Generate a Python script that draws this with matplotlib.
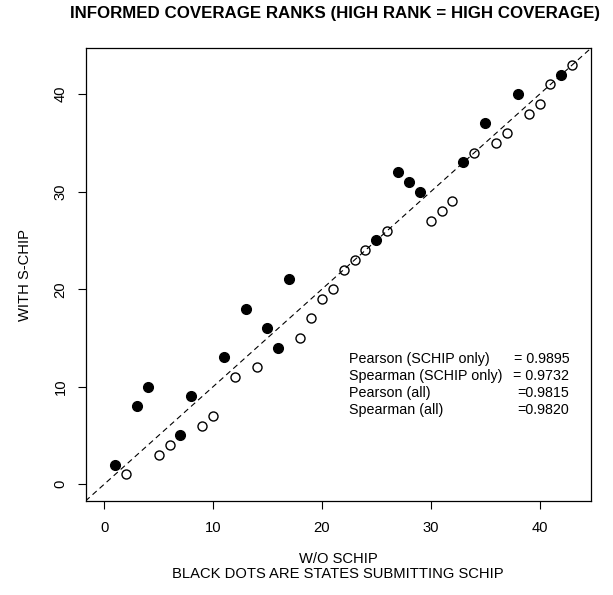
import matplotlib
matplotlib.use("Agg")
import matplotlib.pyplot as plt

# ranks without / with S-CHIP
schip_x = [1, 3, 4, 7, 8, 11, 13, 15, 16, 17, 25, 27, 28, 29, 33, 35, 38, 42]
schip_y = [2, 8, 10, 5, 9, 13, 18, 16, 14, 21, 25, 32, 31, 30, 33, 37, 40, 42]
other_x = [2, 5, 6, 9, 10, 12, 14, 18, 19, 20, 21, 22, 23, 24, 26, 30, 31, 32,
           34, 36, 37, 39, 40, 41, 43]
other_y = [1, 3, 4, 6, 7, 11, 12, 15, 17, 19, 20, 22, 23, 24, 26, 27, 28, 29,
           34, 35, 36, 38, 39, 41, 43]

stat_labels = ["Pearson (SCHIP only)", "Spearman (SCHIP only)",
               "Pearson (all)", "Spearman (all)"]
stat_values = ["= 0.9895", "= 0.9732", "=0.9815", "=0.9820"]

ticks = [0, 10, 20, 30, 40]

plt.rcParams['font.family'] = ['Liberation Sans', 'DejaVu Sans']
fs = 10.6

fig = plt.figure(figsize=(6.13, 5.95), dpi=100)
ax = fig.add_axes([0.1395, 0.158, 0.8245, 0.761])

ax.plot(other_x, other_y, 'o', markersize=6.5, markerfacecolor='white',
        markeredgecolor='black', markeredgewidth=1.0, linestyle='none')
ax.plot(schip_x, schip_y, 'o', markersize=7, color='black', linestyle='none')
ax.axline((0, 0), slope=1, color='black', linestyle=(0, (5, 3.5)), linewidth=0.8)

pad = 43 * 0.04
ax.set_xlim(-pad, 43 + pad)
ax.set_ylim(-pad, 43 + pad)
ax.set_xticks(ticks)
ax.set_yticks(ticks)
ax.tick_params(axis='both', direction='out', length=6, width=0.8, labelsize=fs)
ax.tick_params(axis='x', pad=8.7)
ax.tick_params(axis='y', labelrotation=90, pad=6.8)
for lab in ax.get_yticklabels():
    lab.set_va('center')

for sp in ax.spines.values():
    sp.set_linewidth(0.9)

ys = [12.85, 11.1, 9.35, 7.6]
for lab, val, y in zip(stat_labels, stat_values, ys):
    ax.text(22.5, y, lab, fontsize=10.3, va='center', ha='left')
    ax.text(42.75, y, val, fontsize=10.3, va='center', ha='right')

ax.set_xlabel("W/O SCHIP\nBLACK DOTS ARE STATES SUBMITTING SCHIP",
              fontsize=fs, labelpad=12, linespacing=1.05)
ax.set_ylabel("WITH S-CHIP", fontsize=fs, labelpad=16)
fig.suptitle("INFORMED COVERAGE RANKS (HIGH RANK = HIGH COVERAGE)",
             fontsize=12.2, fontweight='bold', x=0.547, y=0.99)

fig.savefig("out.png", dpi=100)
